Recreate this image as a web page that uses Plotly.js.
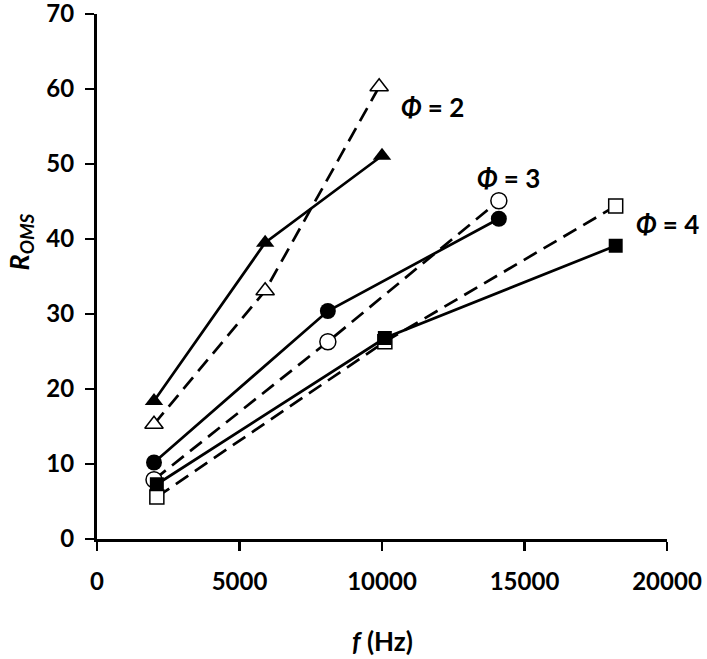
<!DOCTYPE html>
<html>
<head>
<meta charset="utf-8">
<script src="https://cdn.plot.ly/plotly-3.0.1.min.js"></script>
<style>html,body{margin:0;padding:0;background:#fff;}#chart{width:707px;height:659px;}</style>
</head>
<body>
<div id="chart"></div>
<script>
// Φ = 2
const f2Solid = [2000, 5900, 10000];
const r2Solid = [18.4, 39.5, 51.1];
const f2Dash = [2000, 5900, 9900];
const r2Dash = [15.3, 33.1, 60.3];
// Φ = 3
const f3Solid = [2000, 8100, 14100];
const r3Solid = [10.2, 30.4, 42.7];
const f3Dash = [2000, 8100, 14100];
const r3Dash = [7.9, 26.3, 45.1];
// Φ = 4
const f4Solid = [2100, 10100, 18200];
const r4Solid = [7.3, 26.8, 39.1];
const f4Dash = [2100, 10100, 18200];
const r4Dash = [5.6, 26.3, 44.4];

const xTickStep = 5000;
const yTickStep = 10;
const labels = ['<b><i>Φ</i> = 2</b>', '<b><i>Φ</i> = 3</b>', '<b><i>Φ</i> = 4</b>'];

function solid(x, y, sym) {
  return {x: x, y: y, mode: 'lines+markers', type: 'scatter', showlegend: false, cliponaxis: false,
    line: {color: '#000', width: 2.7},
    marker: {symbol: sym, size: sym === 'square' ? 14 : 16, color: '#000'}};
}
function dashed(x, y, sym) {
  return {x: x, y: y, mode: 'lines+markers', type: 'scatter', showlegend: false, cliponaxis: false,
    line: {color: '#000', width: 2.7, dash: '15px,8px'},
    marker: {symbol: sym, size: sym === 'square' ? 14 : 16, color: '#fff', line: {color: '#000', width: 1.5}}};
}

const data = [
  dashed(f2Dash, r2Dash, 'triangle-up'),
  solid(f2Solid, r2Solid, 'triangle-up'),
  dashed(f3Dash, r3Dash, 'circle'),
  solid(f3Solid, r3Solid, 'circle'),
  dashed(f4Dash, r4Dash, 'square'),
  solid(f4Solid, r4Solid, 'square')
];

const fam = 'Lato, "Open Sans", sans-serif';

const axisCommon = {
  showgrid: false, zeroline: false, showline: true, linecolor: '#000', linewidth: 3,
  ticks: 'outside', ticklen: 9, tickwidth: 2.5, tickcolor: '#000',
  tickmode: 'linear', tick0: 0, tickformat: 'd', ticklabeloverflow: 'allow',
  tickfont: {family: fam, size: 24, color: '#000', weight: 'bold'}
};

const layout = {
  width: 707, height: 659,
  margin: {l: 97, r: 40, t: 14, b: 120},
  paper_bgcolor: '#fff', plot_bgcolor: '#fff',
  font: {family: fam, color: '#000'},
  xaxis: Object.assign({}, axisCommon, {
    range: [0, 20000], dtick: xTickStep, ticklabelstandoff: 10
  }),
  yaxis: Object.assign({}, axisCommon, {
    range: [0, 70], dtick: yTickStep, ticklabelstandoff: 6
  }),
  annotations: [
    {x: 10600, y: 57.6, text: labels[0]},
    {x: 13250, y: 48.2, text: labels[1]},
    {x: 18850, y: 42.0, text: labels[2]}
  ].map(a => Object.assign({xref: 'x', yref: 'y', showarrow: false, xanchor: 'left', yanchor: 'middle',
    font: {family: fam, size: 26, color: '#000'}}, a)).concat([
    {xref: 'paper', yref: 'paper', x: -0.135, y: 0.565, xanchor: 'center', yanchor: 'middle',
     textangle: -90, showarrow: false, text: '<b><i>R</i><sub><i>OMS</i></sub></b>',
     font: {family: fam, size: 27, color: '#000'}},
    {xref: 'paper', yref: 'paper', x: 0.5, y: -0.195, xanchor: 'center', yanchor: 'middle',
     showarrow: false, text: '<b><i>f</i> (Hz)</b>',
     font: {family: fam, size: 26, color: '#000'}}
  ])
};

Plotly.newPlot('chart', data, layout, {displayModeBar: false, staticPlot: true});
</script>
</body>
</html>
